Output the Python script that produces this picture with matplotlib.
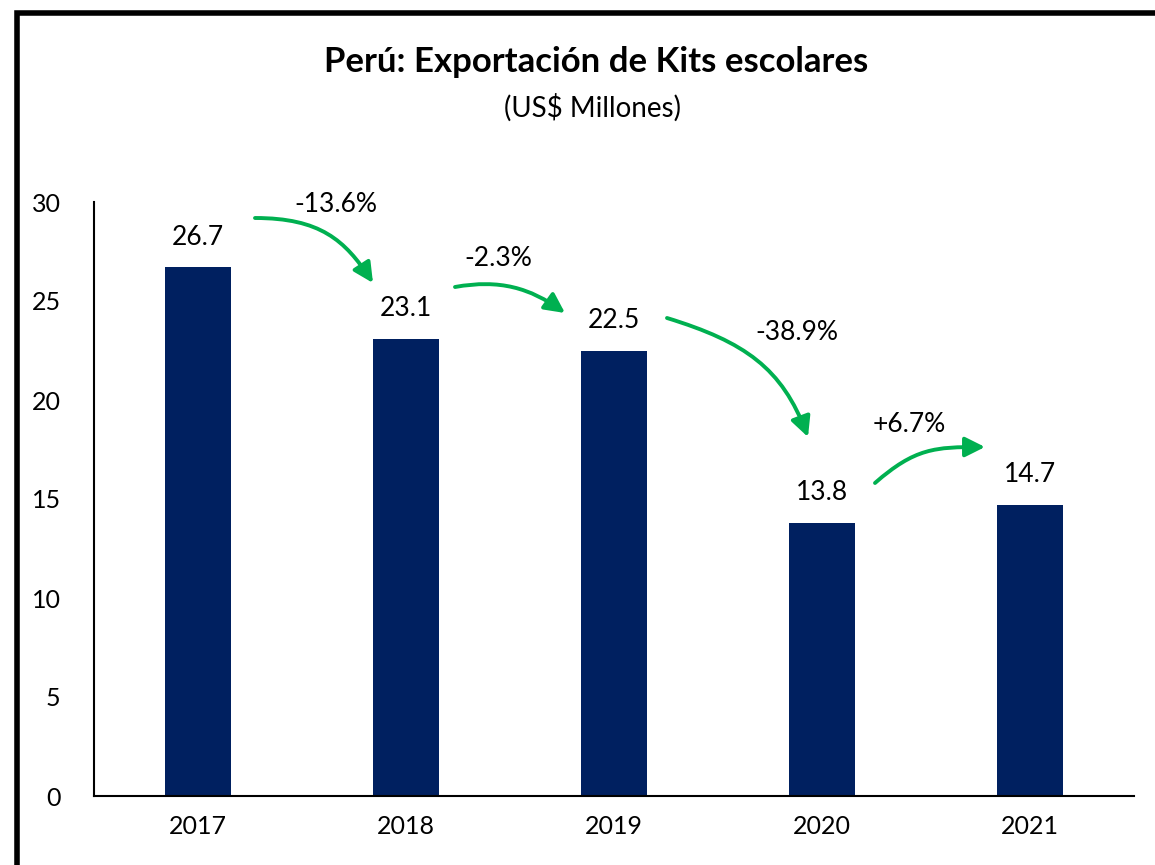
import matplotlib
matplotlib.use("Agg")
import matplotlib.pyplot as plt
from matplotlib.patches import FancyArrowPatch, Rectangle
from matplotlib.path import Path

years = ["2017", "2018", "2019", "2020", "2021"]
values = [26.7, 23.1, 22.5, 13.8, 14.7]
changes = ["-13.6%", "-2.3%", "-38.9%", "+6.7%"]

W, H = 1155, 865
fig = plt.figure(figsize=(W / 100, H / 100), dpi=100)
plt.rcParams['font.family'] = ['Lato', 'DejaVu Sans']

def fx(px):
    return px / W

def fy(py):
    return 1 - py / H

ax = fig.add_axes([fx(94), fy(796), fx(1134) - fx(94), fy(202) - fy(796)])
x = list(range(len(years)))
ax.bar(x, values, width=0.32, color="#002060", zorder=2)
ax.set_xlim(-0.5, len(years) - 0.5)
ax.set_ylim(0, 30)
ax.set_yticks(range(0, 31, 5))
ax.set_xticks(x)
ax.set_xticklabels(years)
ax.tick_params(axis='both', length=0, labelsize=18, colors='black')
ax.tick_params(axis='y', pad=24)
ax.tick_params(axis='x', pad=14)
for s in ['top', 'right']:
    ax.spines[s].set_visible(False)
for s in ['left', 'bottom']:
    ax.spines[s].set_linewidth(1.5)
    ax.spines[s].set_color('black')

for xi, v in zip(x, values):
    ax.annotate(f"{v:.1f}", (xi, v), xytext=(0, 30), textcoords='offset pixels',
                ha='center', va='center', fontsize=19)

def dx(px):
    return (px - 94) / 208 - 0.5

def dy(py):
    return (796 - py) / 19.8

# cubic curve control points (pixel positions in the figure) for each change arrow
arrow_paths = [
    [(255, 218), (320, 218), (345, 240), (373, 283)],
    [(455, 287), (500, 279), (530, 288), (565, 313)],
    [(667, 318), (745, 342), (782, 368), (808, 437)],
    [(875, 483), (915, 448), (935, 447), (985, 447)],
]
label_pos = [(336, 204), (498, 258), (797, 333), (909, 425)]
codes = [Path.MOVETO, Path.CURVE4, Path.CURVE4, Path.CURVE4]
for pts, lp, lab in zip(arrow_paths, label_pos, changes):
    verts = [(dx(p[0]), dy(p[1])) for p in pts]
    ap = FancyArrowPatch(path=Path(verts, codes), arrowstyle='-|>',
                         mutation_scale=30, linewidth=2.8, color='#00B050',
                         transform=ax.transData, zorder=3)
    ax.add_patch(ap)
    ax.text(dx(lp[0]), dy(lp[1]), lab, ha='center', va='center', fontsize=19)

fig.text(fx(596), fy(62), "Perú: Exportación de Kits escolares", ha='center', va='center',
         fontsize=25, fontweight='bold')
fig.text(fx(593), fy(108), "(US$ Millones)", ha='center', va='center', fontsize=20)

border = Rectangle((fx(17), fy(1000)), 1.5, fy(12.5) - fy(1000), transform=fig.transFigure,
                   fill=False, edgecolor='black', linewidth=4, zorder=10)
fig.add_artist(border)

fig.savefig("out.png", dpi=100, facecolor='white')
